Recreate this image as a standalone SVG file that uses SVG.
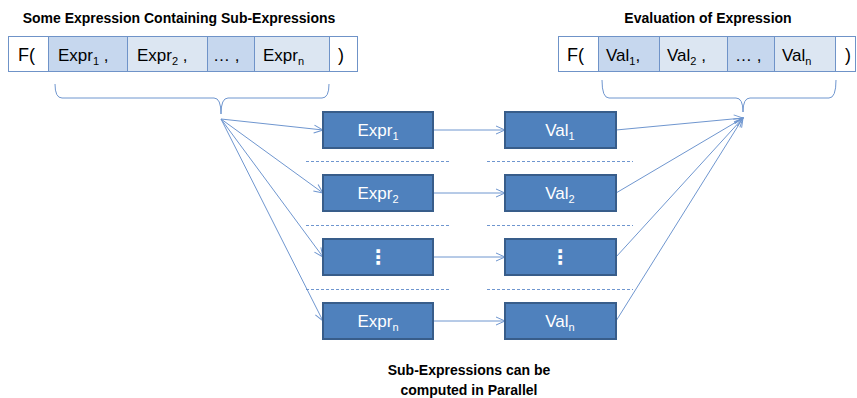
<svg xmlns="http://www.w3.org/2000/svg" width="857" height="398" viewBox="0 0 857 398">
  <style>
    .title { font-family: "Liberation Sans", Arial, sans-serif; font-size: 14px; font-weight: bold; fill: #000; }
    .cell-text { font-family: "Liberation Sans", Arial, sans-serif; font-size: 17px; fill: #000; }
    .paren { font-size: 18px; }
    .box-text { font-family: "Liberation Sans", Arial, sans-serif; font-size: 17px; fill: #fff; text-anchor: middle; }
    .dots { font-family: "DejaVu Sans", sans-serif; font-size: 20px; font-weight: bold; }
    .sub { font-size: 11px; }
    .cell-w { fill: #fff; stroke: #6f93c8; stroke-width: 1; }
    .cell-d { fill: #c6d7ee; stroke: #6f93c8; stroke-width: 1; }
    .cell-l { fill: #dce6f2; stroke: #6f93c8; stroke-width: 1; }
    .box { fill: #4f81bd; stroke: #385d8a; stroke-width: 2; }
    .conn { fill: none; stroke: #6f96cf; stroke-width: 1; }
    .brace { fill: none; stroke: #6f96cf; stroke-width: 1; }
    .sep { fill: none; stroke: #6f96cf; stroke-width: 1; stroke-dasharray: 3 2; }
  </style>
  <defs>
    <marker id="arrow" markerUnits="userSpaceOnUse" markerWidth="12" markerHeight="12" refX="10" refY="5" orient="auto">
      <path d="M1,1 L10,5 L1,9" fill="none" stroke="#6f96cf" stroke-width="1"/>
    </marker>
  </defs>

  <!-- Source expression -->
  <g id="source-expression">
    <text class="title" x="179" y="23" text-anchor="middle">Some Expression Containing Sub-Expressions</text>
    <rect class="cell-w" x="8.5" y="36.5" width="40" height="35"/>
    <rect class="cell-d" x="48.5" y="36.5" width="79" height="35"/>
    <rect class="cell-l" x="127.5" y="36.5" width="80" height="35"/>
    <rect class="cell-d" x="207.5" y="36.5" width="47" height="35"/>
    <rect class="cell-l" x="254.5" y="36.5" width="75" height="35"/>
    <rect class="cell-w" x="329.5" y="36.5" width="28" height="35"/>
    <text class="cell-text paren" x="18" y="61">F(</text>
    <text class="cell-text" x="58" y="61">Expr<tspan class="sub" dy="4">1</tspan><tspan dy="-4"> ,</tspan></text>
    <text class="cell-text" x="137" y="61">Expr<tspan class="sub" dy="4">2</tspan><tspan dy="-4"> ,</tspan></text>
    <text class="cell-text" x="213" y="61">… ,</text>
    <text class="cell-text" x="263" y="61">Expr<tspan class="sub" dy="4">n</tspan></text>
    <text class="cell-text paren" x="338" y="61">)</text>
  </g>

  <!-- Evaluated expression -->
  <g id="result-expression">
    <text class="title" x="708" y="23" text-anchor="middle">Evaluation of Expression</text>
    <rect class="cell-w" x="558.5" y="36.5" width="40" height="35"/>
    <rect class="cell-d" x="598.5" y="36.5" width="61" height="35"/>
    <rect class="cell-l" x="659.5" y="36.5" width="68" height="35"/>
    <rect class="cell-d" x="727.5" y="36.5" width="47" height="35"/>
    <rect class="cell-l" x="774.5" y="36.5" width="61" height="35"/>
    <rect class="cell-w" x="835.5" y="36.5" width="20" height="35"/>
    <text class="cell-text paren" x="567" y="61">F(</text>
    <text class="cell-text" x="606" y="61">Val<tspan class="sub" dy="4">1</tspan><tspan dy="-4">,</tspan></text>
    <text class="cell-text" x="667" y="61">Val<tspan class="sub" dy="4">2</tspan><tspan dy="-4"> ,</tspan></text>
    <text class="cell-text" x="735" y="61">… ,</text>
    <text class="cell-text" x="782" y="61">Val<tspan class="sub" dy="4">n</tspan></text>
    <text class="cell-text paren" x="845" y="61">)</text>
  </g>

  <!-- Braces grouping the sub-expressions -->
  <g id="braces">
    <path class="brace" d="M55,84 Q55,98 62,98 L214,98 Q221,98 221,114 Q221,98 228,98 L322,98 Q329,98 329,84"/>
    <path class="brace" d="M602,80 Q602,98 609,98 L736,98 Q743,98 743,112 Q743,98 750,98 L829,98 Q836,98 836,80"/>
  </g>

  <!-- Row separators -->
  <g id="separators">
    <line class="sep" x1="306" y1="161.5" x2="451" y2="161.5"/>
    <line class="sep" x1="487" y1="161.5" x2="633" y2="161.5"/>
    <line class="sep" x1="306" y1="225.5" x2="451" y2="225.5"/>
    <line class="sep" x1="487" y1="225.5" x2="633" y2="225.5"/>
    <line class="sep" x1="306" y1="289.5" x2="451" y2="289.5"/>
    <line class="sep" x1="487" y1="289.5" x2="633" y2="289.5"/>
  </g>

  <!-- Connectors -->
  <g id="connectors">
    <line class="conn" x1="221" y1="119" x2="323" y2="130" marker-end="url(#arrow)"/>
    <line class="conn" x1="221" y1="119" x2="323" y2="193" marker-end="url(#arrow)"/>
    <line class="conn" x1="221" y1="119" x2="323" y2="257" marker-end="url(#arrow)"/>
    <line class="conn" x1="221" y1="119" x2="323" y2="321" marker-end="url(#arrow)"/>
    <line class="conn" x1="433" y1="130" x2="505" y2="130" marker-end="url(#arrow)"/>
    <line class="conn" x1="433" y1="193" x2="505" y2="193" marker-end="url(#arrow)"/>
    <line class="conn" x1="433" y1="257" x2="505" y2="257" marker-end="url(#arrow)"/>
    <line class="conn" x1="433" y1="321" x2="505" y2="321" marker-end="url(#arrow)"/>
    <line class="conn" x1="616" y1="130" x2="743" y2="118" marker-end="url(#arrow)"/>
    <line class="conn" x1="616" y1="193" x2="743" y2="118" marker-end="url(#arrow)"/>
    <line class="conn" x1="616" y1="257" x2="743" y2="118" marker-end="url(#arrow)"/>
    <line class="conn" x1="616" y1="321" x2="743" y2="118" marker-end="url(#arrow)"/>
  </g>

  <!-- Sub-expression nodes -->
  <g id="expr-1"><rect class="box" x="323" y="112" width="110" height="36"/><text class="box-text" x="378" y="136">Expr<tspan class="sub" dy="4">1</tspan></text></g>
  <g id="expr-2"><rect class="box" x="323" y="175" width="110" height="36"/><text class="box-text" x="378" y="199">Expr<tspan class="sub" dy="4">2</tspan></text></g>
  <g id="expr-dots"><rect class="box" x="323" y="239" width="110" height="36"/><text class="box-text dots" x="378" y="264">⋮</text></g>
  <g id="expr-n"><rect class="box" x="323" y="303" width="110" height="36"/><text class="box-text" x="378" y="327">Expr<tspan class="sub" dy="4">n</tspan></text></g>

  <!-- Value nodes -->
  <g id="val-1"><rect class="box" x="505" y="112" width="111" height="36"/><text class="box-text" x="560" y="136">Val<tspan class="sub" dy="4">1</tspan></text></g>
  <g id="val-2"><rect class="box" x="505" y="175" width="111" height="36"/><text class="box-text" x="560" y="199">Val<tspan class="sub" dy="4">2</tspan></text></g>
  <g id="val-dots"><rect class="box" x="505" y="239" width="111" height="36"/><text class="box-text dots" x="560" y="264">⋮</text></g>
  <g id="val-n"><rect class="box" x="505" y="303" width="111" height="36"/><text class="box-text" x="560" y="327">Val<tspan class="sub" dy="4">n</tspan></text></g>

  <!-- Caption -->
  <g id="caption">
    <text class="title" x="469" y="375" text-anchor="middle">Sub-Expressions can be</text>
    <text class="title" x="469" y="395" text-anchor="middle">computed in Parallel</text>
  </g>
</svg>
